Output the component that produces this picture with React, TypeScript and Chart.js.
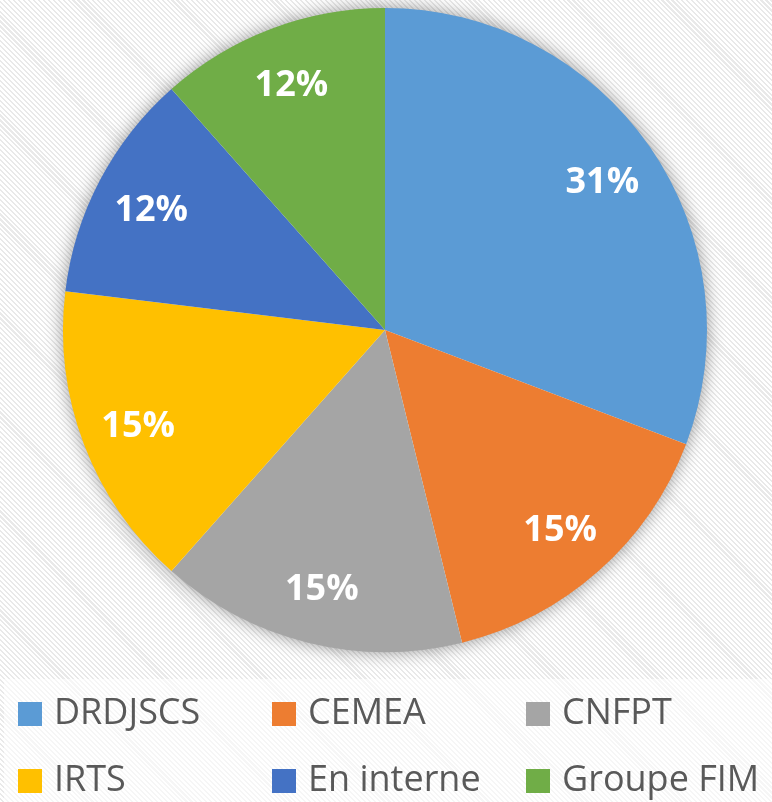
import React, { useEffect, useRef } from "react";
import { Chart, registerables } from "chart.js";

Chart.register(...registerables);

const categories = ["DRDJSCS", "CEMEA", "CNFPT", "IRTS", "En interne", "Groupe FIM"];
const values = [8, 4, 4, 4, 3, 3];
const colors = ["#5B9BD5", "#ED7D31", "#A5A5A5", "#FFC000", "#4472C4", "#70AD47"];

const shadowPlugin = {
  id: "pieShadow",
  beforeDatasetsDraw(chart: any) {
    const arc = chart.getDatasetMeta(0).data[0];
    if (!arc) return;
    const ctx = chart.ctx;
    ctx.save();
    ctx.shadowColor = "rgba(0,0,0,0.45)";
    ctx.shadowBlur = 18;
    ctx.fillStyle = "#ffffff";
    ctx.beginPath();
    ctx.arc(arc.x, arc.y, arc.outerRadius - 1, 0, Math.PI * 2);
    ctx.fill();
    ctx.restore();
  },
};

const labelPlugin = {
  id: "pieLabels",
  afterDatasetsDraw(chart: any) {
    const ctx = chart.ctx;
    const data = chart.data.datasets[0].data as number[];
    const total = data.reduce((a, b) => a + b, 0);
    ctx.save();
    ctx.fillStyle = "#ffffff";
    ctx.font = "bold 36px 'Open Sans'";
    ctx.textAlign = "center";
    ctx.textBaseline = "middle";
    chart.getDatasetMeta(0).data.forEach((arc: any, i: number) => {
      const mid = (arc.startAngle + arc.endAngle) / 2;
      const r = arc.outerRadius * 0.82;
      const x = arc.x + Math.cos(mid) * r;
      const y = arc.y + Math.sin(mid) * r + 3;
      ctx.fillText(Math.round((data[i] / total) * 100) + "%", x, y);
    });
    ctx.restore();
  },
};

const legendPlugin = {
  id: "customLegend",
  afterDraw(chart: any) {
    const ctx = chart.ctx;
    ctx.save();
    ctx.fillStyle = "rgba(255,255,255,0.6)";
    ctx.fillRect(4, 679, 768, 123);
    ctx.font = "36px 'Open Sans'";
    ctx.textBaseline = "alphabetic";
    ctx.textAlign = "left";
    categories.forEach((c, i) => {
      const col = i % 3;
      const row = Math.floor(i / 3);
      const x = 18 + col * 254;
      const y = 702 + row * 67;
      ctx.fillStyle = colors[i];
      ctx.fillRect(x, y, 24, 24);
      ctx.fillStyle = "#595959";
      ctx.fillText(c, x + 36, y + 22);
    });
    ctx.restore();
  },
};

export default function App() {
  const ref = useRef<HTMLCanvasElement | null>(null);
  useEffect(() => {
    if (!ref.current) return;
    const chart = new Chart(ref.current, {
      type: "pie",
      data: {
        labels: categories,
        datasets: [
          {
            data: values,
            backgroundColor: colors,
            borderWidth: 0,
          },
        ],
      },
      options: {
        animation: false,
        responsive: false,
        maintainAspectRatio: false,
        layout: { padding: { left: 63, right: 65, top: 8, bottom: 150 } },
        plugins: {
          legend: { display: false },
          tooltip: { enabled: false },
        },
      },
      plugins: [shadowPlugin, labelPlugin, legendPlugin],
    });
    return () => chart.destroy();
  }, []);
  return (
    <div
      style={{
        position: "fixed",
        left: 0,
        top: 0,
        width: 772,
        height: 802,
        background:
          "repeating-linear-gradient(45deg, #ffffff 0px, #ffffff 2px, #e9e9e9 2px, #e9e9e9 3.5px)",
      }}
    >
      <canvas ref={ref} width={772} height={802} style={{ display: "block" }} />
    </div>
  );
}
